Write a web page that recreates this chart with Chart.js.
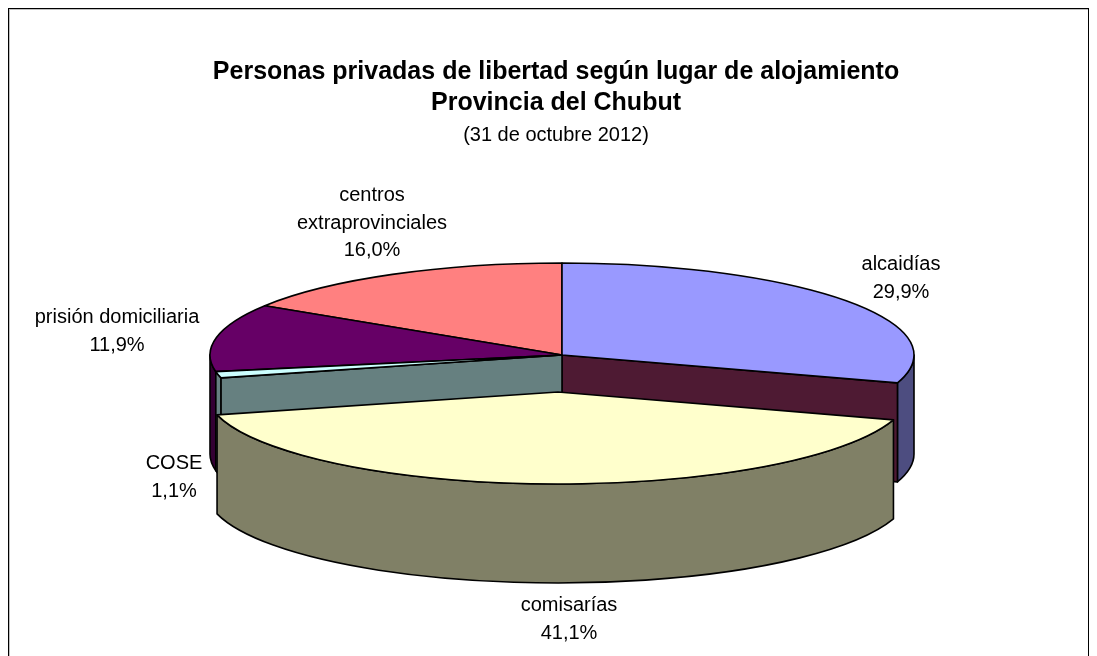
<!DOCTYPE html>
<html><head><meta charset="utf-8">
<style>html,body{margin:0;padding:0;background:#fff}#w{width:1097px;height:656px;position:relative}</style>
<script src="https://cdn.jsdelivr.net/npm/chart.js@4"></script>
</head><body><div id="w"><canvas id="c"></canvas></div>
<script>
const categories = ['alcaidías','comisarías','COSE','prisión domiciliaria','centros extraprovinciales'];
const values = [29.9,41.1,1.1,11.9,16.0];
const topColors = ['#9999FF','#FFFFCC','#CCFFFF','#660066','#FF8080'];
const wallColors = ['#4D4D80','#808066','#668080','#330033','#804040'];
const labelLines = [['alcaidías'],['comisarías'],['COSE'],['prisión domiciliaria'],['centros','extraprovinciales']];
const labelAnchors = [[901,263],[569,604],[174,462],[117,316],[372,194]];
const FONT = '"Liberation Sans", Arial, sans-serif';
const G = {cx:562, cy:355, k:92/352, depth:99, exDx:[0,-4,0,0,0], exDy:[0,37,0,0,0]};
const faces = [ // inner cut faces: slice index, angle edge, colour
  {i:0, edge:'endAngle', color:'#4E1A33'},
  {i:2, edge:'startAngle', color:'#668080'}
];
const pie3d = {
  id:'pie3d',
  beforeDraw(chart){
    const c=chart.ctx; c.save();
    c.fillStyle='#fff'; c.fillRect(0,0,chart.width,chart.height);
    c.fillStyle='#C0C0C0'; c.fillRect(9,9,1079,1); c.fillRect(9,9,1,647);
    c.fillStyle='#000'; c.fillRect(8,8,1081,1); c.fillRect(8,8,1,648); c.fillRect(1088,8,1,648);
    c.restore();
  },
  beforeDatasetsDraw(chart){
    const c=chart.ctx, arcs=chart.getDatasetMeta(0).data;
    const R=arcs[0].outerRadius, rx=R, ry=R*G.k;
    const stroke=()=>{c.lineWidth=1.6;c.strokeStyle='#000';c.lineJoin='round';c.stroke();};
    const wall=(i)=>{
      const a1=Math.max(arcs[i].startAngle,0), a2=Math.min(arcs[i].endAngle,Math.PI);
      if(a2<=a1) return;
      const x=G.cx+G.exDx[i], y=G.cy+G.exDy[i];
      c.beginPath(); c.ellipse(x,y,rx,ry,0,a1,a2);
      c.ellipse(x,y+G.depth,rx,ry,0,a2,a1,true); c.closePath();
      c.fillStyle=wallColors[i]; c.fill(); stroke();
    };
    const face=(f)=>{
      const a=arcs[f.i][f.edge];
      const px=G.cx+rx*Math.cos(a), py=G.cy+ry*Math.sin(a);
      c.beginPath(); c.moveTo(G.cx,G.cy); c.lineTo(px,py); c.lineTo(px,py+G.depth); c.lineTo(G.cx,G.cy+G.depth); c.closePath();
      c.fillStyle=f.color; c.fill(); stroke();
    };
    const top=(i)=>{
      const el=arcs[i], x=G.cx+G.exDx[i], y=G.cy+G.exDy[i];
      c.save();
      c.translate(x,y); c.scale(1,G.k); c.translate(-el.x,-el.y);
      el.draw(c);
      c.restore();
      c.beginPath(); c.moveTo(x,y); c.ellipse(x,y,rx,ry,0,el.startAngle,el.endAngle); c.closePath(); stroke();
    };
    c.save();
    [3,2,0].forEach(wall);
    faces.forEach(face);
    [4,3,0,2].forEach(top);
    wall(1); top(1);
    // data labels
    c.fillStyle='#000'; c.font='20px '+FONT; c.textAlign='center'; c.textBaseline='alphabetic';
    values.forEach((v,i)=>{
      const lines=labelLines[i].concat([v.toFixed(1).replace('.',',')+'%']);
      lines.forEach((t,j)=>c.fillText(t,labelAnchors[i][0],labelAnchors[i][1]+7+j*27.5));
    });
    c.restore();
    return false;
  }
};
new Chart(document.getElementById('c'),{
  type:'pie',
  data:{labels:categories,datasets:[{data:values,backgroundColor:topColors,borderWidth:0,clip:false}]},
  plugins:[pie3d],
  options:{
    responsive:true,maintainAspectRatio:false,animation:false,
    radius:352,
    layout:{padding:{left:15}},
    plugins:{
      legend:{display:false},tooltip:{enabled:false},
      title:{display:true,text:['Personas privadas de libertad según lugar de alojamiento','Provincia del Chubut'],color:'#000',
        font:{family:FONT,size:25,weight:'bold',lineHeight:1.24},padding:{top:57,bottom:0}},
      subtitle:{display:true,text:'(31 de octubre 2012)',color:'#000',font:{family:FONT,size:20,weight:'normal',lineHeight:1.3},padding:{top:3,bottom:0}}
    }
  }
});
</script></body></html>
